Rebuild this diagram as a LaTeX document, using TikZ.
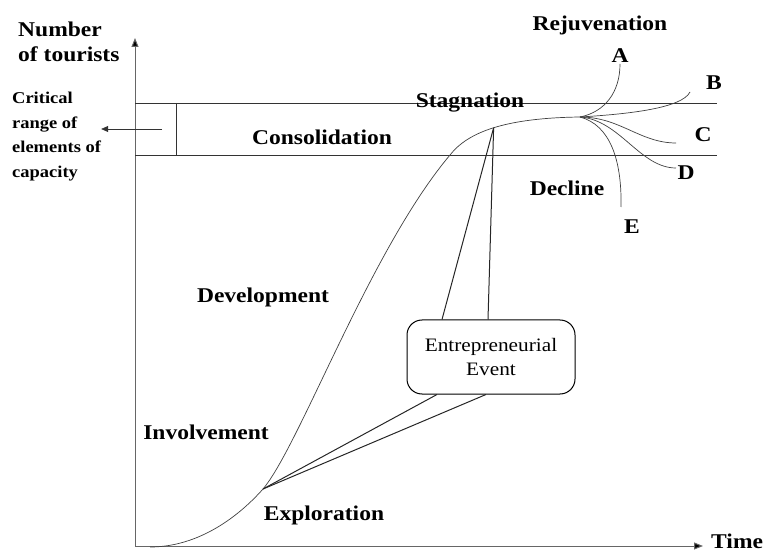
\documentclass[tikz,border=0pt]{standalone}
\usepackage{fontspec}
\setmainfont[FakeStretch=1.12]{Liberation Serif}
\usetikzlibrary{arrows.meta,calc}

\begin{document}
\begin{tikzpicture}[x=1pt,y=-1pt,
  lbl/.style={font=\fontsize{21}{25}\selectfont\bfseries},
  note/.style={font=\fontsize{16.5}{24.5}\selectfont\bfseries, align=left, inner sep=0pt},
  axis/.style={draw=gray!80!black, line width=1pt, -{Triangle[length=9pt,width=7pt,fill=black]}},
  band/.style={draw=black!80, line width=0.9pt},
  link/.style={draw=black!85, line width=1pt},
  trend/.style={draw=black!75, line width=0.7pt},
  event/.style={draw, line width=1pt, rounded corners=15pt, minimum width=168pt, minimum height=74pt, align=center, inner sep=0pt, font=\fontsize{19}{24}\selectfont}]
\useasboundingbox (0,0) rectangle (771,553);

% axes
\coordinate (o) at (135,546);
\coordinate (ytop) at (135,38);
\coordinate (xend) at (703,546);
\draw[axis] (o) -- (ytop);
\draw[axis] (o) -- (xend);
\node[lbl, anchor=base west, inner sep=0pt] (time) at (711,548) {Time};
\node[lbl, anchor=north west, align=left, inner sep=0pt] (ylab) at (18,22) {Number\\of tourists};

% critical range band
\coordinate (hiL) at (135,103);
\coordinate (hiR) at (717,103);
\coordinate (loL) at (135,155);
\coordinate (loR) at (717,155);
\draw[band] (hiL) -- (hiR);
\draw[band] (loL) -- (loR);
\draw[band] (176,103) -- (176,155);
\coordinate (cr) at (162,129);
\node[note, anchor=north west] (crit) at (12,92) {Critical\\range of\\elements of\\capacity};
\draw[band, line width=0.6pt, -{Triangle[length=7pt,width=6pt]}] (cr) -- (crit.east |- cr);

% life cycle curve
\coordinate (start) at (150,547);
\coordinate (expl) at (263,489);
\coordinate (cons) at (450,155);
\coordinate (turn) at (580,117);
\draw[trend] (start) .. controls (200,547) and (240,515) .. (expl)
  .. controls (300,445) and (370,250) .. (cons)
  .. controls (468,132) and (505,118) .. coordinate[pos=0.5] (peak) (turn);

% branches
\coordinate (a) at (620,64);
\coordinate (b) at (690,92);
\coordinate (c) at (676,143);
\coordinate (d) at (676,168);
\coordinate (e) at (621,207);
\draw[trend] (turn) .. controls (605,112) and (620,92) .. (a);
\draw[trend] (turn) .. controls (630,114) and (682,108) .. (b);
\draw[trend] (turn) .. controls (620,117) and (640,143) .. (c);
\draw[trend] (turn) .. controls (620,120) and (640,168) .. (d);
\draw[trend] (turn) .. controls (610,125) and (622,160) .. (e);
\node[lbl] (la) at (620,56) {A};
\node[lbl] (lb) at (714,83) {B};
\node[lbl] (lc) at (703,135) {C};
\node[lbl] (ld) at (686,173) {D};
\node[lbl] (le) at (632,227) {E};

% stages
\node[lbl] (rej) at (600,25) {Rejuvenation};
\node[lbl] (stag) at (470,103) {Stagnation};
\node[lbl] (consl) at (322,137) {Consolidation};
\node[lbl] (decl) at (567,188) {Decline};
\node[lbl] (dev) at (263,297) {Development};
\node[lbl] (inv) at (206,432) {Involvement};
\node[lbl] (exp) at (324,515) {Exploration};

% entrepreneurial event
\node[event] (ev) at (491,357) {Entrepreneurial\\Event};
\draw[link] (peak) -- ([xshift=-49pt]ev.north);
\draw[link] (peak) -- ([xshift=-3pt]ev.north);
\draw[link] (expl) -- ([xshift=-54pt]ev.south);
\draw[link] (expl) -- ([xshift=-5pt]ev.south);
\end{tikzpicture}
\end{document}
